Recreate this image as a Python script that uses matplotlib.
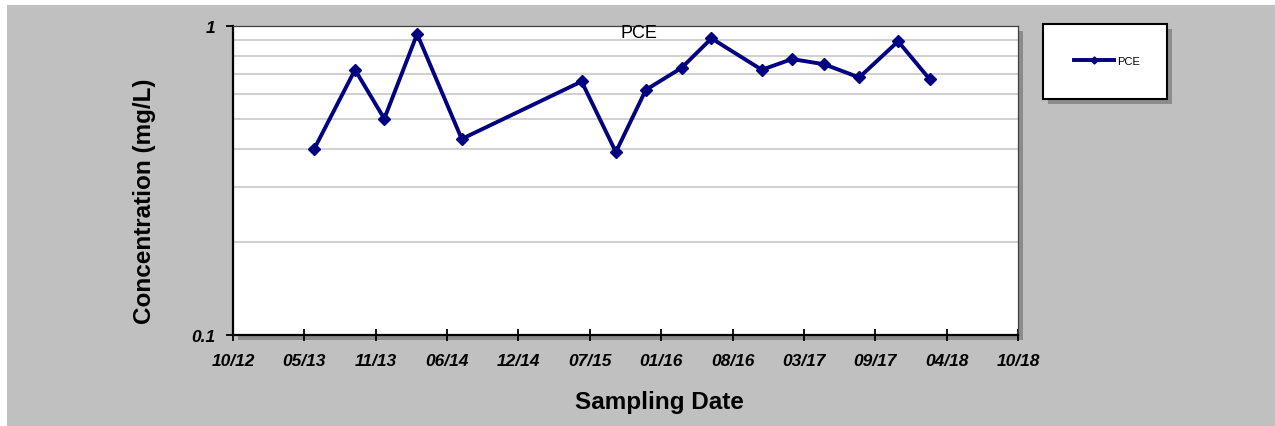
import matplotlib
matplotlib.use('Agg')
import matplotlib.pyplot as plt
import matplotlib.dates as mdates
from matplotlib.patches import Rectangle
from matplotlib.ticker import FixedLocator, NullFormatter
import numpy as np
import datetime as dt

plt.rcParams['font.family'] = ['Liberation Sans', 'DejaVu Sans']

# PCE sampling results (mg/L)
sample_dates = ['2013-06-03', '2013-09-25', '2013-12-16', '2014-03-18', '2014-07-21',
                '2015-06-22', '2015-09-26', '2015-12-19', '2016-03-28', '2016-06-20',
                '2016-11-08', '2017-02-01', '2017-05-02', '2017-08-08', '2017-11-25',
                '2018-02-22']
pce_values = [0.40, 0.72, 0.50, 0.94, 0.43,
              0.66, 0.39, 0.62, 0.73, 0.91,
              0.72, 0.78, 0.75, 0.68, 0.89,
              0.67]

# Excel-style date axis: start 10/18/2012, major unit 200 days
axis_start = dt.date(2012, 10, 18)
major_days = 200
n_ticks = 12
y_minor = [0.2, 0.3, 0.4, 0.5, 0.6, 0.7, 0.8, 0.9]

W, H = 1275, 427
fig = plt.figure(figsize=(W / 100, H / 100), dpi=100, facecolor='white')

def fx(px):
    return px / W

def fy(py):
    return 1 - py / H

# gray chart area
fig.patches.append(Rectangle((fx(7), 0), 1 - fx(7), fy(6), transform=fig.transFigure,
                             facecolor='#C0C0C0', edgecolor='none', zorder=-3))

L, R, T, B = 233, 1018, 26.7, 335.7
# plot-area drop shadow
fig.patches.append(Rectangle((fx(L + 5), fy(B + 5)), fx(R - L), fy(T) - fy(B), transform=fig.transFigure,
                             facecolor='#8c8c8c', edgecolor='none', zorder=-2))

ax = fig.add_axes([fx(L), fy(B), fx(R - L), fy(T) - fy(B)])
ax.set_facecolor('white')

dates = [dt.datetime.strptime(d, '%Y-%m-%d') for d in sample_dates]
ax.plot(dates, pce_values, color='#000080', linewidth=2.8, marker='D', markersize=6.5,
        label='PCE', zorder=3)

ax.set_yscale('log')
ax.set_ylim(0.1, 1)
ax.yaxis.set_major_locator(FixedLocator([0.1, 1]))
ax.yaxis.set_minor_locator(FixedLocator(y_minor))
ax.yaxis.set_minor_formatter(NullFormatter())
ax.set_yticklabels(['0.1', '1'])
ax.grid(True, which='minor', axis='y', color='#C8C8C8', linewidth=1.2)

ticks = [axis_start + dt.timedelta(days=major_days * k) for k in range(n_ticks)]
ax.set_xlim(ticks[0], ticks[-1])
ax.set_xticks(ticks)
ax.xaxis.set_major_formatter(mdates.DateFormatter('%m/%y'))

ax.tick_params(axis='x', which='major', direction='inout', length=9, width=1.3, pad=9,
               labelsize=12.5)
ax.tick_params(axis='y', which='major', direction='out', length=5, width=1.3, pad=8,
               labelsize=12.5)
ax.tick_params(axis='y', which='minor', length=0)
for lab in ax.get_xticklabels() + ax.get_yticklabels():
    lab.set_fontweight('bold')
    lab.set_fontstyle('italic')

for s in ['left', 'bottom']:
    ax.spines[s].set_linewidth(1.6)
    ax.spines[s].set_color('black')
for s in ['top', 'right']:
    ax.spines[s].set_linewidth(0.9)
    ax.spines[s].set_color('#404040')

fig.text(fx(638.5), fy(33), 'PCE', ha='center', va='center', fontsize=13)
fig.text(fx(659), fy(403), 'Sampling Date', ha='center', va='center', fontsize=17.5,
         fontweight='bold')
fig.text(fx(145), fy(201), 'Concentration (mg/L)', ha='center', va='center', fontsize=17.5,
         fontweight='bold', rotation=90)

# legend box with shadow
lx0, ly0, lx1, ly1 = 1043, 24.5, 1167, 100
fig.patches.append(Rectangle((fx(lx0 + 5), fy(ly1 + 5)), fx(lx1 - lx0), fy(ly0) - fy(ly1),
                             transform=fig.transFigure, facecolor='#8c8c8c', edgecolor='none',
                             zorder=-2))
fig.patches.append(Rectangle((fx(lx0), fy(ly1)), fx(lx1 - lx0), fy(ly0) - fy(ly1),
                             transform=fig.transFigure, facecolor='white', edgecolor='black',
                             linewidth=1.5, zorder=-1))
fig.legend(*ax.get_legend_handles_labels(), loc='center',
           bbox_to_anchor=(fx(1107), fy(62)), bbox_transform=fig.transFigure,
           frameon=False, fontsize=8, handlelength=3.6, handletextpad=0.3,
           markerscale=0.55)

fig.savefig('out.png', dpi=100, facecolor='white')
